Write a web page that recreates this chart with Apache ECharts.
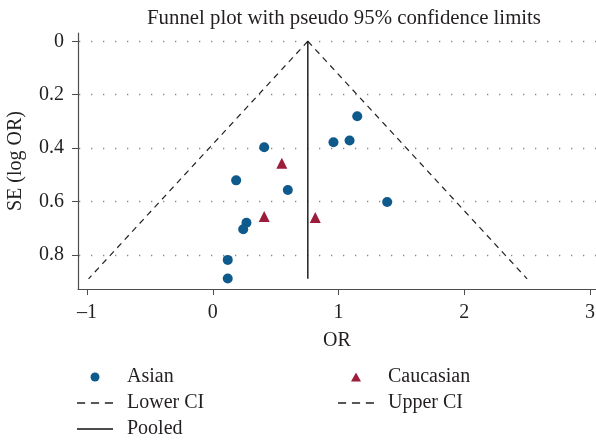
<!DOCTYPE html>
<html>
<head>
<meta charset="utf-8">
<script src="https://cdn.jsdelivr.net/npm/echarts@6/dist/echarts.min.js"></script>
<style>html,body{margin:0;padding:0;background:#fff}#c{width:596px;height:440px}</style>
</head>
<body>
<div id="c"></div>
<script>
const asianOR = [1.149, 0.960, 1.088, 0.409, 0.186, 0.597, 1.387, 0.268, 0.242, 0.119, 0.119];
const asianSE = [0.281, 0.378, 0.372, 0.397, 0.521, 0.557, 0.602, 0.680, 0.704, 0.819, 0.889];
const caucasianOR = [0.549, 0.409, 0.815];
const caucasianSE = [0.457, 0.656, 0.660];
const lowerCIOR = [0.756, -0.988];
const lowerCISE = [0, 0.89];
const upperCIOR = [0.756, 2.50];
const upperCISE = [0, 0.89];
const pooledOR = [0.756, 0.756];
const pooledSE = [0, 0.89];
const xTicks = [-1, 0, 1, 2, 3];
const yTicks = [0, 0.2, 0.4, 0.6, 0.8];

const zip = (a, b) => a.map((v, i) => [v, b[i]]);
const FONT = 'Liberation Serif';
const TXT = '#231f20';
const FS = 20;
const DASH_ICON = 'path://M0,0h7v1.3h-7z M12,0h7v1.3h-7z M24,0h7v1.3h-7z';
const SOLID_ICON = 'path://M0,0h36v1.3h-36z';
const TRI_ICON = 'path://M5,0L10,9L0,9Z';

const legendBase = {
  orient: 'vertical', top: 367, padding: 0,
  itemWidth: 36, itemHeight: 9, itemGap: 6,
  textStyle: {fontFamily: FONT, fontSize: FS, color: TXT, padding: [0, 0, 0, 9]}
};

const chart = echarts.init(document.getElementById('c'), null, {renderer: 'canvas'});
chart.setOption({
  animation: false,
  backgroundColor: '#fff',
  textStyle: {fontFamily: FONT, color: TXT},
  title: {
    text: 'Funnel plot with pseudo 95% confidence limits',
    left: 339, top: 3, textAlign: 'center',
    textStyle: {fontFamily: FONT, fontSize: 20.8, fontWeight: 'normal', color: TXT}
  },
  grid: {left: 78, right: 0, top: 33, bottom: 151, containLabel: false, outerBoundsMode: 'none'},
  xAxis: {
    type: 'value', min: -1.072, max: 3.048,
    name: 'OR', nameLocation: 'middle', nameGap: 42,
    nameTextStyle: {fontFamily: FONT, fontSize: FS, color: TXT},
    axisLine: {onZero: false, lineStyle: {color: '#4d4d4d', width: 1.2}},
    axisTick: {show: true, length: 6, customValues: xTicks, lineStyle: {color: '#4d4d4d'}},
    axisLabel: {customValues: xTicks, margin: 14, fontFamily: FONT, fontSize: FS, color: TXT,
      formatter: v => String(v).replace('-', '\u2013')},
    splitLine: {show: false}
  },
  yAxis: {
    type: 'value', inverse: true, min: -0.031, max: 0.928,
    name: 'SE (log OR)', nameLocation: 'middle', nameGap: 52,
    nameTextStyle: {fontFamily: FONT, fontSize: FS, color: TXT},
    axisLine: {show: true, onZero: false, lineStyle: {color: '#4d4d4d', width: 1.2}},
    axisTick: {show: true, length: 6, customValues: yTicks, lineStyle: {color: '#4d4d4d'}},
    axisLabel: {customValues: yTicks, margin: 14, fontFamily: FONT, fontSize: FS, color: TXT},
    splitLine: {show: true, lineStyle: {color: '#8a8a8a', width: 1.3, type: [1.3, 10.7], dashOffset: -1}}
  },
  legend: [
    Object.assign({}, legendBase, {
      left: 77,
      data: [
        {name: 'Asian', icon: 'circle'},
        {name: 'Lower CI', icon: DASH_ICON},
        {name: 'Pooled', icon: SOLID_ICON}
      ]
    }),
    Object.assign({}, legendBase, {
      left: 338,
      data: [
        {name: 'Caucasian', icon: TRI_ICON},
        {name: 'Upper CI', icon: DASH_ICON}
      ]
    })
  ],
  series: [
    {
      name: 'Lower CI', type: 'line', data: zip(lowerCIOR, lowerCISE), symbol: 'none',
      lineStyle: {color: '#222', width: 1.2, type: [6, 5]}, itemStyle: {color: '#222'}, z: 2
    },
    {
      name: 'Upper CI', type: 'line', data: zip(upperCIOR, upperCISE), symbol: 'none',
      lineStyle: {color: '#222', width: 1.2, type: [6, 5]}, itemStyle: {color: '#222'}, z: 2
    },
    {
      name: 'Pooled', type: 'line', data: zip(pooledOR, pooledSE), symbol: 'none',
      lineStyle: {color: '#111', width: 1.4}, itemStyle: {color: '#111'}, z: 2
    },
    {
      name: 'Asian', type: 'scatter', data: zip(asianOR, asianSE), symbol: 'circle', symbolSize: 10,
      itemStyle: {color: '#0f5a8c', opacity: 1}, z: 3
    },
    {
      name: 'Caucasian', type: 'scatter', data: zip(caucasianOR, caucasianSE), symbol: 'triangle', symbolSize: 11,
      itemStyle: {color: '#9c1c3c', opacity: 1}, z: 3
    }
  ]
});
</script>
</body>
</html>
